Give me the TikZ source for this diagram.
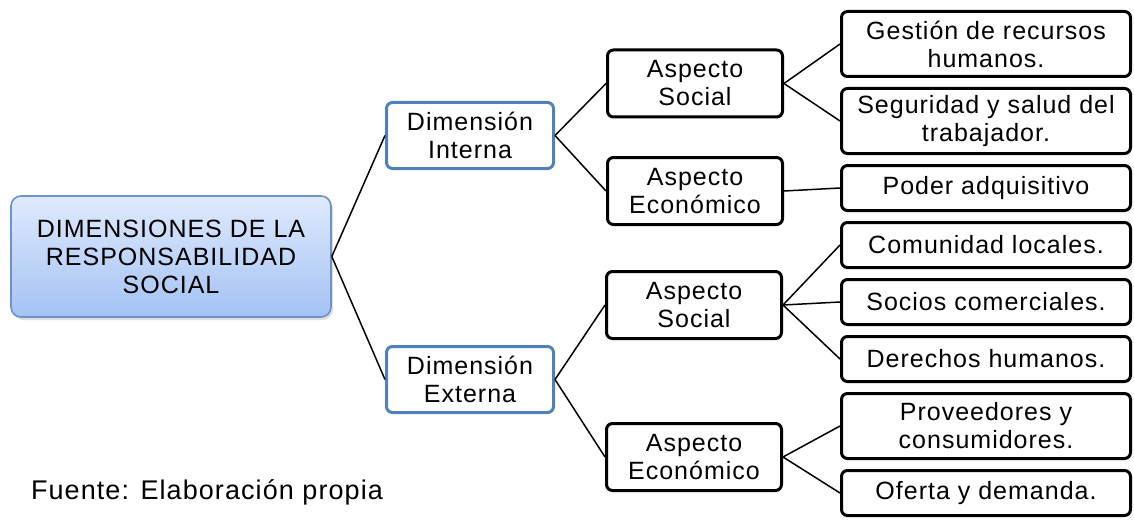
\documentclass[tikz,border=0pt]{standalone}
\usepackage{fontspec}
\setmainfont[LetterSpace=4]{Liberation Sans}
\usepackage{xcolor}
\usetikzlibrary{shadows,positioning}

\definecolor{azulborde}{RGB}{79,129,189}
\definecolor{raizborde}{RGB}{108,146,204}
\definecolor{raizarriba}{RGB}{223,234,253}
\definecolor{raizabajo}{RGB}{164,194,244}

\begin{document}
\begin{tikzpicture}[
				x=0.5pt, y=-0.5pt,
				font=\fontsize{12.5}{14}\selectfont,
				raiz/.style={rectangle, rounded corners=5pt, draw=raizborde, line width=0.8pt, top color=raizarriba, bottom color=raizabajo, minimum width=160pt, minimum height=60.5pt, align=center, inner sep=0pt, drop shadow={opacity=0.25, shadow xshift=1pt, shadow yshift=-1.5pt}},
				dimension/.style={rectangle, rounded corners=3pt, draw=azulborde, line width=1.5pt, fill=white, minimum width=83.5pt, minimum height=33pt, align=center, inner sep=0pt},
				aspecto/.style={rectangle, rounded corners=3pt, draw, line width=1.5pt, minimum width=87.5pt, minimum height=33.5pt, align=center, inner sep=0pt},
				hoja/.style={rectangle, rounded corners=3pt, draw, line width=1.5pt, minimum width=144.5pt, minimum height=22.5pt, align=center, inner sep=0pt},
				doble/.style={minimum height=32.5pt},
				linea/.style={line width=0.75pt}
				]
				\useasboundingbox (0,0) rectangle (1134,519);
				
				% Raiz y dimensiones
				\node[raiz] (raiz) at (171,256.5) {DIMENSIONES DE LA\\RESPONSABILIDAD\\SOCIAL};
				\node[dimension] (dimint) at (470,135.5) {Dimensión\\Interna};
				\node[dimension] (dimext) at (470,379.5) {Dimensión\\Externa};
				
				% Aspectos
				\node[aspecto] (socint) at (695,83.5) {Aspecto\\Social};
				\node[aspecto] (ecoint) at (695,191) {Aspecto\\Económico};
				\node[aspecto] (socext) at (694,305) {Aspecto\\Social};
				\node[aspecto] (ecoext) at (694,457) {Aspecto\\Económico};
				
				% Hojas
				\node[hoja, doble] (gestion) at (986,44) {Gestión de recursos\\humanos.};
				\node[hoja, doble, below=4.5pt of gestion] (seguridad) {Seguridad y salud del\\trabajador.};
				\node[hoja, below=4.5pt of seguridad] (poder) {Poder adquisitivo};
				\node[hoja, below=4.5pt of poder] (comunidad) {Comunidad locales.};
				\node[hoja, below=4.5pt of comunidad] (socios) {Socios comerciales.};
				\node[hoja, below=4.5pt of socios] (derechos) {Derechos humanos.};
				\node[hoja, doble, below=4.5pt of derechos] (proveedores) {Proveedores y\\consumidores.};
				\node[hoja, below=4.5pt of proveedores] (oferta) {Oferta y demanda.};
				
				% Fuente
				\node[anchor=west, font=\fontsize{13.5}{16}\selectfont] (fuente) at (24,492) {Fuente: Elaboración propia};
				
				% Conectores
				\draw[linea] (raiz.east) -- (dimint.west);
				\draw[linea] (raiz.east) -- (dimext.west);
				\draw[linea] (dimint.east) -- (socint.west);
				\draw[linea] (dimint.east) -- (ecoint.west);
				\draw[linea] (dimext.east) -- (socext.west);
				\draw[linea] (dimext.east) -- (ecoext.west);
				\draw[linea] (socint.east) -- (gestion.west);
				\draw[linea] (socint.east) -- (seguridad.west);
				\draw[linea] (ecoint.east) -- (poder.west);
				\draw[linea] (socext.east) -- (comunidad.west);
				\draw[linea] (socext.east) -- (socios.west);
				\draw[linea] (socext.east) -- (derechos.west);
				\draw[linea] (ecoext.east) -- (proveedores.west);
				\draw[linea] (ecoext.east) -- (oferta.west);
			\end{tikzpicture}
\end{document}
